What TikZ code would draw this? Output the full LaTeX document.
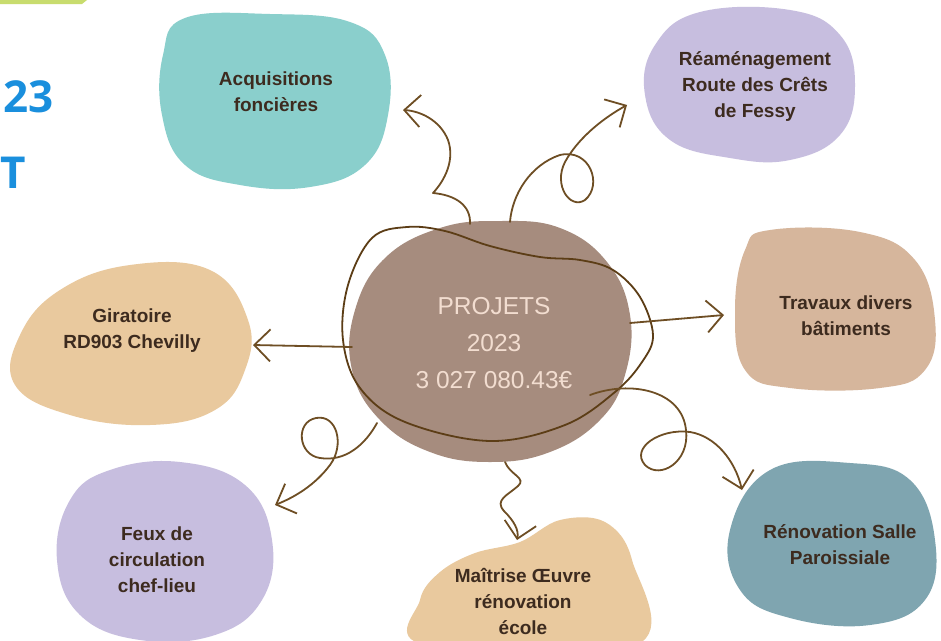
\documentclass[tikz,border=0pt]{standalone}
\usepackage{fontspec}
\setmainfont{Liberation Sans}
\newfontfamily\bluefont{Open Sans}
\usetikzlibrary{arrows.meta}
\definecolor{bandc}{HTML}{C8DC6E}
\definecolor{bluec}{HTML}{1A8FDD}
\definecolor{tealc}{HTML}{8ACFCC}
\definecolor{lavc}{HTML}{C7BEDF}
\definecolor{tanc}{HTML}{D6B69C}
\definecolor{beigec}{HTML}{E9C99E}
\definecolor{slatec}{HTML}{7FA5B0}
\definecolor{centerc}{HTML}{A68C7E}
\definecolor{labelc}{HTML}{3D2B1F}
\definecolor{ctextc}{HTML}{F2DDD0}
\definecolor{arrowc}{HTML}{6E4E24}
\definecolor{loopc}{HTML}{5C3D16}
\begin{document}
\begin{tikzpicture}[x=1pt,y=-1pt,
  lbl/.style={font=\bfseries\fontsize{19}{26}\selectfont, text=labelc, align=center, inner sep=0pt},
  ctext/.style={font=\fontsize{24.5}{37}\selectfont, text=ctextc, align=center, inner sep=0pt},
  bigblue/.style={font=\bluefont\bfseries\fontsize{44}{44}\selectfont, text=bluec, inner sep=0pt},
  arr/.style={draw=arrowc, line width=1.8pt, line cap=round, line join=round,
    -{Straight Barb[length=16pt,width=32pt,line width=1.8pt]}},
  loopline/.style={draw=loopc, line width=1.8pt}]
\fill[white] (0,0) rectangle (941,640);
\useasboundingbox (0,0) rectangle (941,640);
% top band and cut titles
\fill[bandc] (0,0) -- (87,0) -- (82,4) -- (0,4) -- cycle;
\node[bigblue, anchor=base east] (t23) at (54,112) {23};
\node[bigblue, anchor=base west] (tT) at (0,188) {T};
% blobs
\fill[tealc] plot[smooth cycle, tension=0.7] coordinates {(185,18) (270,14) (350,22) (385,55) (388,115) (365,165) (310,187) (240,185) (185,165) (162,115) (163,55)};
\fill[lavc] plot[smooth cycle, tension=0.7] coordinates {(700,12) (790,10) (840,35) (855,85) (840,135) (790,160) (730,158) (670,140) (645,95) (655,45)};
\fill[tanc] plot[smooth cycle, tension=0.7] coordinates {(770,230) (860,232) (915,260) (935,320) (925,370) (880,388) (790,388) (745,370) (735,310) (745,250)};
\fill[beigec] plot[smooth cycle, tension=0.7] coordinates {(60,290) (130,265) (210,270) (248,320) (245,370) (215,410) (150,425) (70,415) (15,385) (20,335)};
\fill[lavc] plot[smooth cycle, tension=0.7] coordinates {(110,470) (180,462) (245,485) (272,540) (262,600) (215,635) (140,640) (80,615) (57,560) (70,500)};
\fill[beigec] plot[smooth cycle, tension=0.6] coordinates {(440,572) (475,553) (520,542) (560,520) (605,522) (632,560) (636,645) (425,645) (420,600)};
\fill[slatec] plot[smooth cycle, tension=0.7] coordinates {(770,470) (850,463) (910,480) (935,540) (925,600) (870,625) (790,618) (740,590) (730,530)};
\fill[centerc] plot[smooth cycle, tension=0.7] coordinates {(500,221) (560,228) (607,262) (630,315) (625,375) (600,420) (550,452) (490,462) (430,452) (380,420) (352,370) (355,310) (385,258) (440,228)};
% loop around centre
\draw[loopline] plot[smooth cycle, tension=0.6] coordinates {(372,238) (407,227) (445,231) (490,246) (540,257) (580,260) (613,270) (640,297) (653,335) (642,362) (615,392) (565,425) (490,441) (405,422) (360,388) (343,340) (348,285)};
% connector end points
\coordinate (sA) at (470,224); \coordinate (eA) at (403,110);
\coordinate (sR) at (510,222); \coordinate (eR) at (627,105);
\coordinate (sT) at (630,323); \coordinate (eT) at (724,315);
\coordinate (sG) at (352,347); \coordinate (eG) at (253,345);
\coordinate (sF) at (377,423); \coordinate (eF) at (275,505);
\coordinate (sM) at (505,462); \coordinate (eM) at (517,540);
\coordinate (sS) at (590,395); \coordinate (eS) at (742,490);
% arrows
\draw[arr] (sA) .. controls (471,205) and (455,195) .. (433,193) .. controls (445,180) and (455,160) .. (448,140) .. controls (440,120) and (420,111) .. (eA);
\draw[arr] (sR) .. controls (512,195) and (530,165) .. (560,155) .. controls (590,148) and (603,185) .. (585,200) .. controls (570,210) and (553,185) .. (565,162) .. controls (577,140) and (600,120) .. (eR);
\draw[arr] (sT) -- (eT);
\draw[arr] (sG) -- (eG);
\draw[arr] (sF) .. controls (365,445) and (345,462) .. (320,458) .. controls (298,455) and (295,422) .. (316,418) .. controls (337,414) and (345,445) .. (330,465) .. controls (315,485) and (295,497) .. (eF);
\draw[arr] (sM) .. controls (510,475) and (527,478) .. (518,486) .. controls (508,495) and (494,500) .. (504,511) .. controls (514,521) and (519,530) .. (eM);
\draw[arr] (sS) .. controls (630,380) and (682,390) .. (686,430) .. controls (690,462) and (660,480) .. (645,465) .. controls (630,448) and (660,428) .. (690,432) .. controls (715,436) and (735,460) .. (eS);
% labels
\node[lbl] (lA) at (276,92) {Acquisitions\\foncières};
\node[lbl] (lR) at (755,87) {Réaménagement\\Route des Crêts\\de Fessy};
\node[lbl] (lT) at (846,316) {Travaux divers\\bâtiments};
\node[lbl] (lG) at (132,331) {Giratoire\\RD903 Chevilly};
\node[lbl] (lF) at (157,560) {Feux de\\circulation\\chef-lieu};
\node[lbl] (lM) at (523,601) {Maîtrise Œuvre\\rénovation\\école};
\node[lbl] (lS) at (840,545) {Rénovation Salle\\Paroissiale};
\node[ctext] (lC) at (494,343) {PROJETS\\2023\\3 027 080.43€};
\end{tikzpicture}
\end{document}
